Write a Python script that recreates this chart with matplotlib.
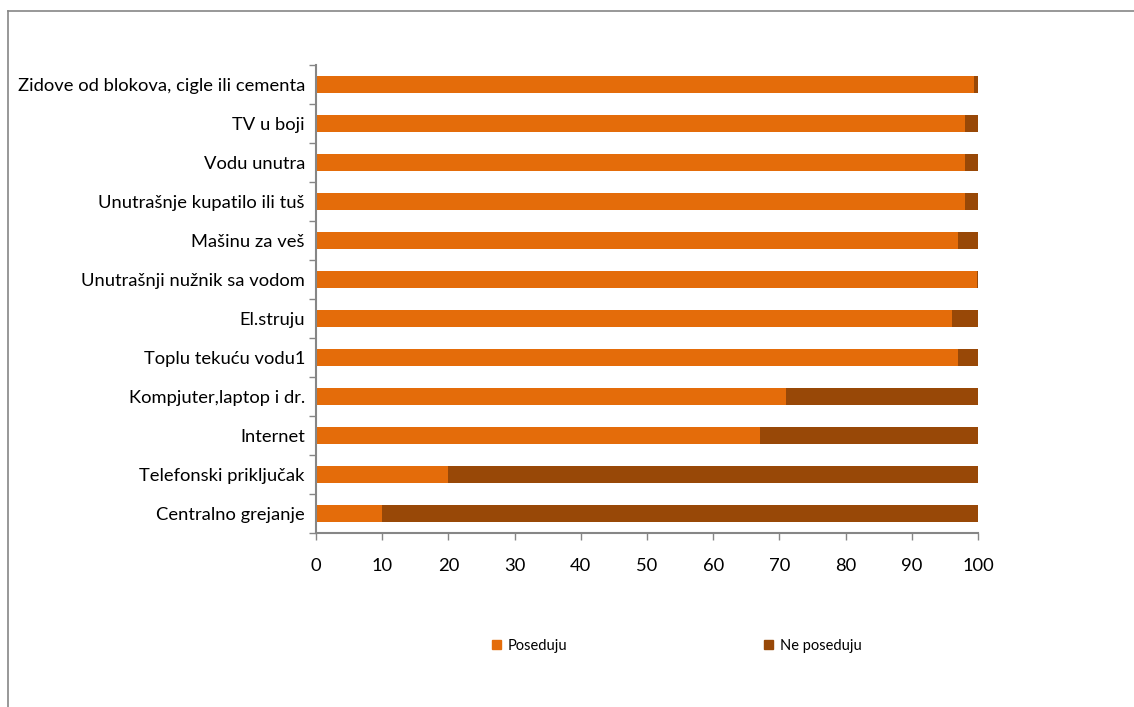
import matplotlib.pyplot as plt
from matplotlib.lines import Line2D
from matplotlib.patches import Patch
from matplotlib.ticker import FixedLocator, NullFormatter

# categories bottom -> top
categories = [
    "Centralno grejanje",
    "Telefonski priključak",
    "Internet",
    "Kompjuter,laptop i dr.",
    "Toplu tekuću vodu1",
    "El.struju",
    "Unutrašnji nužnik sa vodom",
    "Mašinu za veš",
    "Unutrašnje kupatilo ili tuš",
    "Vodu unutra",
    "TV u boji",
    "Zidove od blokova, cigle ili cementa",
]
poseduju = [10, 20, 67, 71, 97, 96, 99.8, 97, 98, 98, 98.1, 99.4]
ne_poseduju = [100 - v for v in poseduju]

ORANGE = "#E46C0A"
BROWN = "#984807"
GRAY = "#868686"

plt.rcParams["font.family"] = ["Lato", "DejaVu Sans"]

fig = plt.figure(figsize=(11.34, 7.07), dpi=100)
ax = fig.add_axes([316 / 1134, 1 - 533 / 707, (978 - 316) / 1134, (533 - 65) / 707])

y = list(range(len(categories)))
ax.barh(y, poseduju, height=0.44, color=ORANGE, label="Poseduju")
ax.barh(y, ne_poseduju, left=poseduju, height=0.44, color=BROWN, label="Ne poseduju")

ax.set_xlim(0, 100)
ax.set_ylim(-0.5, len(categories) - 0.5)
ax.set_xticks(range(0, 101, 10))
ax.tick_params(axis="x", labelsize=13.2, colors=GRAY, labelcolor="black", length=5, width=1, pad=13)

ax.set_yticks(y)
ax.set_yticklabels(categories)
ax.tick_params(axis="y", which="major", length=0, labelsize=13.2, pad=8)
ax.yaxis.set_minor_locator(FixedLocator([i - 0.5 for i in range(len(categories) + 1)]))
ax.yaxis.set_minor_formatter(NullFormatter())
ax.tick_params(axis="y", which="minor", length=5, width=1, color=GRAY)

for side in ["top", "right"]:
    ax.spines[side].set_visible(False)
for side in ["left", "bottom"]:
    ax.spines[side].set_color(GRAY)
    ax.spines[side].set_linewidth(1.5)

handles = [Patch(color=ORANGE), Patch(color=BROWN)]
fig.legend(handles, ["Poseduju", "Ne poseduju"], loc="center",
           bbox_to_anchor=(0.597, 1 - 646 / 707), ncol=2, frameon=False,
           fontsize=10.5, handlelength=0.6, handleheight=0.6, handletextpad=0.5,
           columnspacing=13.5)

# outer chart frame (only top and left visible)
fig.add_artist(Line2D([8 / 1134, 1], [1 - 11 / 707, 1 - 11 / 707], color=GRAY, lw=1.2,
                      transform=fig.transFigure))
fig.add_artist(Line2D([8 / 1134, 8 / 1134], [0, 1 - 11 / 707], color=GRAY, lw=1.2,
                      transform=fig.transFigure))

fig.savefig("out.png", dpi=100)
